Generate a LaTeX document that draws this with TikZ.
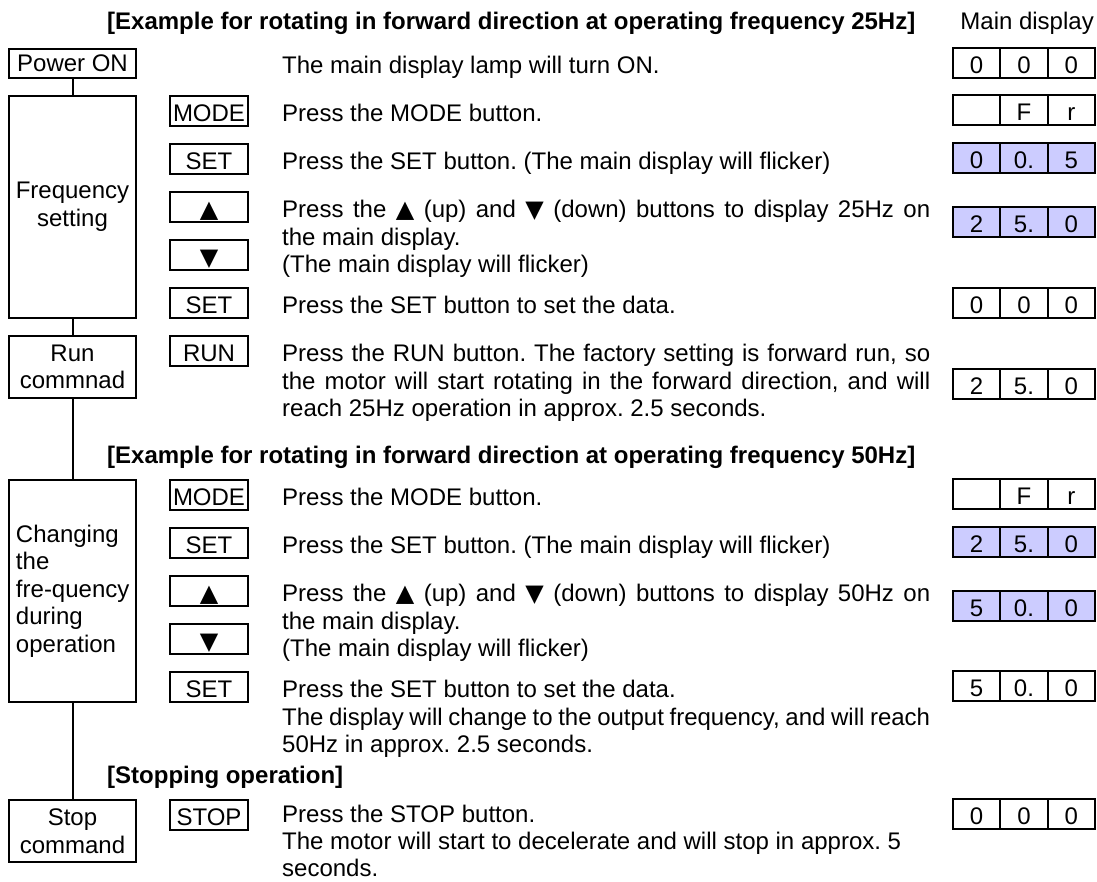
\documentclass[tikz,border=0pt]{standalone}
\usepackage{fontspec}
\setmainfont{Liberation Sans}
\newfontfamily\symfont{DejaVu Sans}
\usetikzlibrary{positioning}

\definecolor{flickerblue}{RGB}{204,204,255}
\newcommand{\bodysize}{\fontsize{24}{27.6}\selectfont\frenchspacing}
\newcommand{\up}{{\symfont\char"25B2}}
\newcommand{\down}{{\symfont\char"25BC}}

% one main display: name, y, style, three digits
\newcommand{\mdisp}[6]{%
  \node[#3] (#1a) at (976.65,#2) {#4};
  \node[#3, right=0pt of #1a] (#1b) {#5};
  \node[#3, right=0pt of #1b] (#1c) {#6};
}

\tikzset{
  stage/.style={draw, line width=2pt, minimum width=127pt, align=center, inner sep=0pt},
  btn/.style={draw, line width=2pt, minimum width=78pt, minimum height=30pt,
    inner sep=0pt, text height=21pt, text depth=0pt},
  desc/.style={anchor=base west, text width=648pt, align=justify, inner sep=0pt},
  title/.style={anchor=base west, inner sep=0pt, font=\bodysize\bfseries},
  cell/.style={draw, line width=2pt, minimum width=47.3pt, minimum height=30pt,
    inner sep=0pt, outer sep=0pt, text height=21pt, text depth=0pt},
  lit/.style={cell, fill=flickerblue},
  link/.style={line width=2pt}
}

\begin{document}
\begin{tikzpicture}[x=1pt, y=-1pt, every node/.style={font=\bodysize}]
\useasboundingbox (0,0) rectangle (1097,882);

  % headings
  \node[title] (t_25) at (107,30) {[Example for rotating in forward direction at operating frequency 25Hz]};
  \node[anchor=base east, inner sep=0pt] (t_disp) at (1094,30) {Main display};
  \node[title] (t_50) at (107,463) {[Example for rotating in forward direction at operating frequency 50Hz]};
  \node[title] (t_stop) at (107,783) {[Stopping operation]};

  % stages
  \node[stage, minimum height=29pt] (pwr) at (72.5,63.5) {Power ON};
  \node[stage, minimum height=222pt] (freq) at (72.5,207) {Frequency\\setting};
  \node[stage, minimum height=62pt] (run) at (72.5,367) {Run\\commnad};
  \node[stage, minimum height=222pt, text width=113pt, align=left] (chg) at (72.5,591)
    {Changing\\the\\\mbox{fre-quency}\\during\\operation};
  \node[stage, minimum height=62pt] (stop) at (72.5,831) {Stop\\command};

  \draw[link] (pwr) -- (freq);
  \draw[link] (freq) -- (run);
  \draw[link] (run) -- (chg);
  \draw[link] (chg) -- (stop);

  % buttons
  \node[btn] (mode1) at (209,111) {MODE};
  \node[btn] (set1) at (209,159) {SET};
  \node[btn] (up1) at (209,207) {\up};
  \node[btn] (down1) at (209,255) {\down};
  \node[btn] (set2) at (209,303) {SET};
  \node[btn] (runb) at (209,351) {RUN};
  \node[btn] (mode2) at (209,495) {MODE};
  \node[btn] (set3) at (209,543) {SET};
  \node[btn] (up2) at (209,591) {\up};
  \node[btn] (down2) at (209,639) {\down};
  \node[btn] (set4) at (209,687) {SET};
  \node[btn] (stopb) at (209,815) {STOP};

  % what to do
  \node[desc] (d_pwr) at (282,74) {The main display lamp will turn ON.};
  \node[desc] (d_mode1) at (282,121.5) {Press the MODE button.};
  \node[desc] (d_set1) at (282,169.5) {Press the SET button. (The main display will flicker)};
  \node[desc] (d_up1) at (282,217.5) {Press the \up{} (up) and \down{} (down) buttons to display 25Hz on\linebreak
    the main display.\\(The main display will flicker)};
  \node[desc] (d_set2) at (282,313.5) {Press the SET button to set the data.};
  \node[desc] (d_run) at (282,361.5) {Press the RUN button. The factory setting is forward run, so\linebreak
    the motor will start rotating in the forward direction, and will\linebreak
    reach 25Hz operation in approx. 2.5 seconds.};
  \node[desc] (d_mode2) at (282,505.5) {Press the MODE button.};
  \node[desc] (d_set3) at (282,553.5) {Press the SET button. (The main display will flicker)};
  \node[desc] (d_up2) at (282,601.5) {Press the \up{} (up) and \down{} (down) buttons to display 50Hz on\linebreak
    the main display.\\(The main display will flicker)};
  \node[desc] (d_set4) at (282,697.5) {Press the SET button to set the data.\\
    The display will change to the output frequency, and will reach\linebreak
    50Hz in approx. 2.5 seconds.};
  \node[desc, font=\fontsize{24}{27}\selectfont\frenchspacing] (d_stop) at (282,822.5) {Press the STOP button.\\
    The motor will start to decelerate and will stop in approx. 5\\seconds.};

  % main display readings
  \mdisp{m1}{63.5}{cell}{0}{0}{0}
  \mdisp{m2}{110.5}{cell}{}{F}{r}
  \mdisp{m3}{158.5}{lit}{0}{0.}{5}
  \mdisp{m4}{222}{lit}{2}{5.}{0}
  \mdisp{m5}{303}{cell}{0}{0}{0}
  \mdisp{m6}{384}{cell}{2}{5.}{0}
  \mdisp{m7}{494}{cell}{}{F}{r}
  \mdisp{m8}{542}{lit}{2}{5.}{0}
  \mdisp{m9}{605.5}{lit}{5}{0.}{0}
  \mdisp{m10}{686}{cell}{5}{0.}{0}
  \mdisp{m11}{814}{cell}{0}{0}{0}

\end{tikzpicture}
\end{document}
